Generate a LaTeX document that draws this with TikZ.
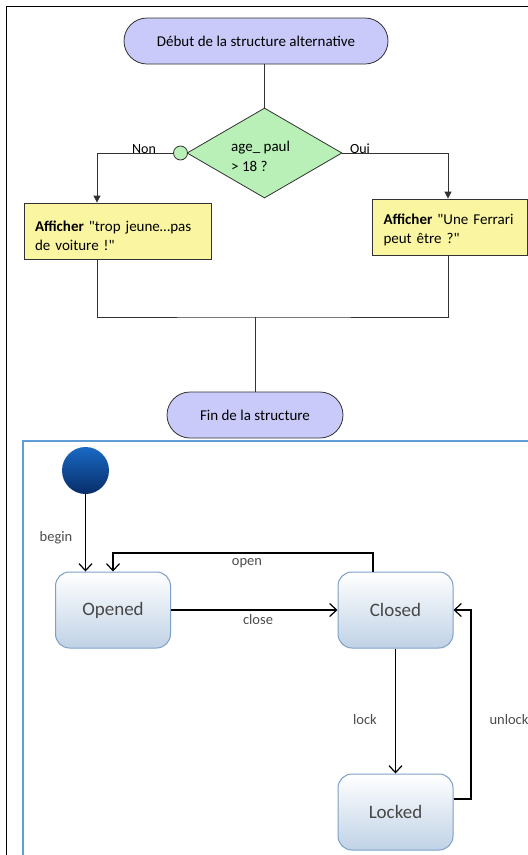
\documentclass[tikz,border=0pt]{standalone}
\usepackage{fontspec}
\setmainfont{Carlito}[Ligatures=TeXOff]
\usetikzlibrary{shapes.geometric,arrows.meta}
\definecolor{lav}{RGB}{202,202,250}
\definecolor{dgreen}{RGB}{184,240,184}
\definecolor{yel}{RGB}{250,245,160}
\definecolor{frameblue}{RGB}{95,157,215}
\definecolor{stborder}{RGB}{125,160,200}
\definecolor{stbottom}{RGB}{192,210,230}
\definecolor{inittop}{RGB}{25,105,195}
\definecolor{initbot}{RGB}{8,45,105}
\definecolor{fline}{RGB}{50,50,50}
\tikzset{
  stadium/.style={draw=fline, line width=0.8pt, fill=lav, rounded corners=23pt, minimum height=46pt, inner sep=0pt, font=\fontsize{15}{17}\selectfont},
  ifbox/.style={draw=fline, line width=0.8pt, fill=dgreen, diamond, aspect=1.72, minimum width=155pt, minimum height=90pt, inner sep=0pt},
  iftext/.style={align=left, inner sep=0pt, font=\fontsize{15}{20}\selectfont},
  actbox/.style={draw=fline, line width=0.8pt, fill=yel, minimum height=56pt, align=left, inner sep=0pt, font=\fontsize{15}{19}\selectfont},
  fconn/.style={draw=fline, line width=0.8pt},
  farrow/.style={fconn, -{Triangle[length=7pt,width=7pt]}},
  flabel/.style={font=\fontsize{14}{16}\selectfont},
  state/.style={draw=stborder, line width=1pt, rounded corners=14pt, top color=white, bottom color=stbottom, minimum width=115pt, minimum height=76pt, inner sep=0pt, text=black!72, font=\fontsize{19}{22}\selectfont},
  sarrow/.style={draw=black, line width=1.6pt, -{Straight Barb[length=7pt,width=13pt,line width=1.2pt]}},
  slabel/.style={text=black!70, font=\fontsize{14.5}{16}\selectfont},
}
\begin{document}
\begin{tikzpicture}[x=1pt,y=-1pt]
\useasboundingbox (0,0) rectangle (528,855);
\fill[white] (0,0) rectangle (528,855);
% outer frame
\draw[black, line width=1pt] (6,860) -- (6,6) -- (535,6);
% flowchart
\node[stadium, minimum width=264pt] (debut) at (256,41) {Début de la structure alternative};
\node[ifbox] (cond) at (264.5,153) {};
\node[iftext, anchor=north west] (condtext) at (231,141) {age\_ paul\\> 18 ?};
\node[draw=fline, line width=0.8pt, fill=dgreen, circle, minimum size=14pt, inner sep=0pt] (neg) at (180.5,153) {};
\node[actbox, minimum width=187pt, text width=165pt] (boxL) at (117.5,231) {\rule{0pt}{21pt}\textbf{Afficher} "trop jeune…pas\\de voiture !"};
\node[actbox, minimum width=155pt, text width=133pt] (boxR) at (450,227) {\rule{0pt}{17pt}\textbf{Afficher} "Une Ferrari\\peut être ?"};
\node[stadium, minimum width=176pt] (fin) at (255,415) {Fin de la structure};
\coordinate (xL) at (97,0);
\coordinate (xR) at (448,0);
\coordinate (merge) at (255,317);
\draw[fconn] (cond.north) -- (cond.north |- debut.south);
\draw[fconn] (cond.west) -- (neg.east);
\draw[farrow] (neg.west) -| (boxL.north -| xL);
\draw[farrow] (cond.east) -| (boxR.north -| xR);
\draw[fconn] (boxL.south -| xL) |- (merge) -| (boxR.south -| xR);
\draw[fconn] (merge) -- (fin.north);
\node[flabel, anchor=base] (non) at (144,153) {Non};
\node[flabel, anchor=base] (oui) at (360,153) {Oui};
% state diagram frame
\draw[frameblue, line width=1.8pt] (23,860) -- (23,441) -- (535,441);
\node[circle, minimum size=47pt, inner sep=0pt, top color=inittop, bottom color=initbot] (init) at (85.5,470.5) {};
\node[state] (opened) at (113,610) {Opened};
\node[state] (closed) at (395.5,610) {Closed};
\node[state] (locked) at (395.5,812) {Locked};
\coordinate (opencorner) at (250,553);
\coordinate (unlockcorner) at (471,700);
\draw[sarrow] (init.south) -- (init.south |- opened.north);
\draw[sarrow] ([xshift=-22.5pt]closed.north) |- (opencorner) -| (opened.north);
\draw[sarrow] (opened.east) -- (closed.west);
\draw[sarrow] (closed.south) -- (locked.north);
\draw[sarrow] ([yshift=13pt]locked.east) -| (unlockcorner) |- (closed.east);
\node[slabel] (lbegin) at (56,538) {begin};
\node[slabel] (lopen) at (247,563) {open};
\node[slabel] (lclose) at (258,620) {close};
\node[slabel] (llock) at (365,720) {lock};
\node[slabel, anchor=west] (lunlock) at (486,720) {unlock};
\end{tikzpicture}
\end{document}
